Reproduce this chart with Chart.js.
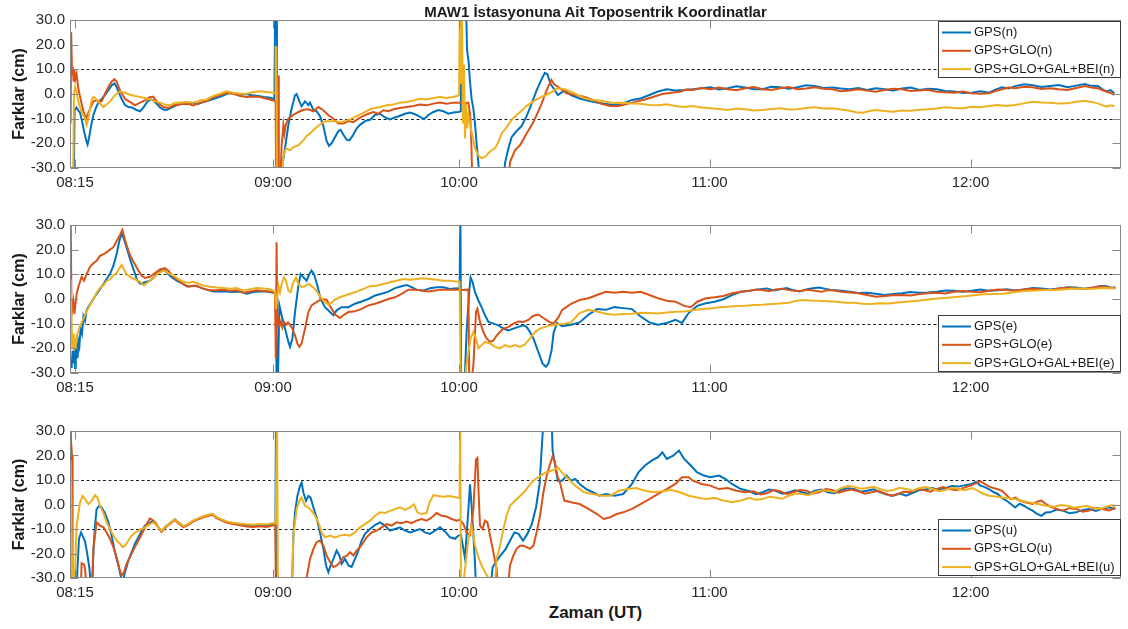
<!DOCTYPE html>
<html lang="tr">
<head>
<meta charset="utf-8">
<title>MAW1 İstasyonuna Ait Toposentrik Koordinatlar</title>
<script src="https://cdn.jsdelivr.net/npm/chart.js@4.4.1/dist/chart.umd.min.js"></script>
<style>
  html, body { margin: 0; padding: 0; background: #fff; }
  #page { position: relative; width: 1128px; height: 629px; overflow: hidden; background: #fff; }
  canvas { position: absolute; left: 0; }
  .txt { position: absolute; left: 70px; width: 1051px; text-align: center; font-family: "Liberation Sans", Arial, sans-serif; font-weight: bold; color: #1a1a1a; white-space: nowrap; }
  #title { top: 3px; font-size: 15px; line-height: 17px; }
  #xtitle { top: 603px; font-size: 17px; line-height: 20px; }
</style>
</head>
<body>
<div id="page">
  <canvas id="pn" width="1128" height="200" style="top:0px"></canvas>
  <canvas id="pe" width="1128" height="200" style="top:200px"></canvas>
  <canvas id="pu" width="1128" height="200" style="top:400px"></canvas>
  <div class="txt" id="title">MAW1 İstasyonuna Ait Toposentrik Koordinatlar</div>
  <div class="txt" id="xtitle">Zaman (UT)</div>
</div>
<script>
// Epoch axis: tick epochs and their clock labels
const tickEpochs = [2.5, 101.5, 194.5, 319.75, 450.25];
const tickLabels = ['08:15', '09:00', '10:00', '11:00', '12:00'];
const epochMax = 525.5;
const yTickValues = [-30, -20, -10, 0, 10, 20, 30];
const refLines = [-10, 10];

// North component [epoch, cm]
const gpsN = [[0.3,-40],[1.8,-40],[2.3,-6.5],[3.3,-5.5],[4.2,-6.8],[5,-7.5],[6,-11],[7,-15],[8.2,-19],[8.8,-20.5],[9.5,-18],[10.5,-13],[11.7,-8.5],[13,-5.5],[14.2,-3.5],[15.8,-2],[17.5,-0.5],[19.2,1.5],[20.8,3.5],[22.2,4.3],[23.3,3],[24.2,1],[25.8,-2],[27.5,-4.5],[29.2,-5.3],[31,-5.5],[33.3,-6.5],[35,-7],[36.7,-5.5],[38.3,-3.5],[40,-2.2],[41.7,-2.5],[43.3,-4],[45,-5.5],[46.7,-6.3],[48.3,-6.5],[50,-5.8],[52,-5],[55,-4],[58,-4.2],[61,-3.6],[64,-4],[67,-3.2],[70,-2.5],[73,-1.6],[76,-0.8],[79,0.3],[82,0.4],[85,-0.3],[88,0],[91,-0.5],[94,-0.8],[97,-1.2],[100,-1.5],[102.2,-2],[102.6,38],[103.4,38],[103.8,-40],[105.8,-31],[107.5,-22],[109.2,-12.5],[110.8,-6],[112.5,-0.5],[113.3,0],[114.7,-3],[115.8,-5],[117.5,-3],[119.2,-4.5],[120,-3.5],[121.7,-6.5],[123.3,-7],[125,-9],[126.7,-13],[128.3,-19],[129.5,-21],[130.8,-20],[132.5,-17.5],[134.2,-15],[135.3,-14.5],[136.7,-16.5],[138.3,-18.5],[139.7,-18.8],[141.3,-17],[143.3,-14],[145,-12.5],[147.5,-11],[150,-10.5],[152.5,-8.5],[155,-8],[157.5,-9.5],[160,-10.3],[162.5,-9.5],[165,-8.8],[167.5,-8],[170,-7.5],[172.5,-8.2],[175,-9.3],[177,-10.2],[179.2,-8.5],[181.7,-7.3],[184.2,-6.5],[186.7,-7],[189.2,-8],[191.7,-7.5],[194.2,-7.3],[195.4,-7],[195.8,38],[198,38],[198.5,18],[199.3,13],[200,5],[200.8,-2],[201.7,-6],[202.5,-12],[203.3,-20],[204.2,-28],[205,-40],[216.5,-40],[217.5,-28],[219.2,-22],[220.8,-17.5],[223.3,-15],[225.8,-13],[228.3,-9],[230.8,-4],[233.3,1.5],[235.8,6],[237.4,8.6],[238.7,8],[240.3,4],[241.8,2.3],[243.9,-0.4],[247.2,1.4],[250.5,-0.4],[254.8,-1.8],[259.2,-2.7],[263.5,-3.5],[267.9,-4],[272.2,-4.5],[276.6,-3.8],[281,-2.4],[285.3,-1.8],[289.7,-0.4],[294,1],[298.4,1.9],[302.7,1.4],[307.1,1.6],[311.4,1.9],[315.8,2.3],[320.2,2.7],[324.5,1.8],[328.9,2.3],[333.2,3.1],[337.6,2.6],[342,1.9],[346.3,1.9],[350.6,2.9],[355,2.7],[359.4,2.1],[363.7,2.7],[368,3.5],[372.4,3.2],[376.8,2.4],[381.1,2.6],[385.5,2.2],[389.8,1.9],[394.2,2.4],[398.5,1.6],[402.9,2.3],[407.3,1.9],[411.6,1.4],[416,2.2],[420.3,2.6],[424.7,1.6],[429,2.1],[433.4,1.9],[437.7,1.2],[442.1,1],[446.5,0.4],[450.8,0.5],[455.2,1.1],[459.5,0.5],[462.7,1.8],[466,2.7],[469.3,2.2],[472.6,3.2],[477,3.9],[481.3,3.6],[485.7,2.8],[490,3.2],[494.4,3.6],[498.7,2.7],[503.1,3.4],[507.4,4],[510.6,3.3],[513.9,3.2],[516.1,2],[518.3,1],[520.3,1.6],[522.2,0.3]];
const gpsGloN = [[0.3,-12],[0.6,25],[1,8],[1.4,11],[1.8,5],[2.2,10],[2.7,6],[3.3,8],[4.2,2],[5.3,-2],[6.7,-7],[8,-10],[8.7,-8.6],[10,-6],[11.7,-3],[13.3,-2.6],[15.8,-3],[18.3,1.5],[20.8,5],[22.2,6],[23.3,5],[25,1.5],[27.5,-2],[30,-3.2],[32.5,-4.6],[35,-3.5],[37.5,-2.6],[40,-1.2],[41.7,-1.1],[44.2,-3.9],[46.7,-5.3],[49.2,-5.7],[51.7,-4.6],[55,-4.3],[58.3,-3.9],[61.7,-4.6],[65,-3.5],[68.3,-3],[71.7,-1.2],[75,-0.5],[78.3,0.5],[81.7,0.1],[85,-0.8],[88.3,-1.2],[91.7,-1],[95,-1.2],[98.3,-1.9],[101.7,-2.6],[102.8,-3],[103.1,-40],[103.7,-40],[104.1,7.5],[104.4,-40],[105,-40],[105.8,-20.8],[106.3,-16.8],[106.7,-12.7],[107.2,-16],[107.8,-12.7],[109.2,-10],[111.7,-8.4],[114.2,-7.3],[116.7,-6.4],[119.2,-6.2],[121.7,-7],[124.2,-5.3],[126.7,-6.6],[129.2,-8.6],[131.7,-10],[134.2,-12],[136.7,-12],[139.2,-11],[141.7,-11.4],[144.2,-10],[146.7,-8.9],[149.2,-8],[151.7,-7.3],[154.2,-8],[156.7,-6.6],[159.2,-7],[161.7,-6.2],[165,-5.7],[168.3,-5.3],[171.7,-4.9],[175,-4.3],[178.3,-4.6],[181.7,-3.9],[185,-3.5],[188.3,-3.9],[191.7,-3.5],[195,-3.5],[197,-3.8],[199.2,-3.5],[200,-8],[200.5,-15],[201,-30],[201.5,-40],[219,-40],[220,-27.6],[222.5,-22.8],[225,-20.8],[228.3,-16],[230.8,-12.7],[233.3,-8.6],[235.8,-3.9],[238.3,1.5],[240,4.5],[240.7,5.7],[242,4],[245,2.3],[248.3,0.3],[252.6,-0.4],[257,-1.1],[261.4,-2.4],[265.7,-4],[270.1,-4.9],[274.4,-4.9],[278.8,-4],[283.1,-3.1],[287.5,-2.2],[291.8,-1.1],[296.2,0],[300.6,0.5],[304.9,0.9],[308.2,1.8],[311.4,1.6],[315.8,2.4],[320.2,1.9],[324.5,2.6],[328.9,1.9],[333.2,1.5],[337.6,2.3],[342,2.8],[346.3,1.9],[350.6,1.6],[355,2.3],[359.4,2.8],[363.7,1.9],[368,2.2],[372.4,2.7],[376.8,2.1],[381.1,1.9],[385.5,1.1],[389.8,1.4],[394.2,1.9],[398.5,1.4],[402.9,0.9],[407.3,1.6],[411.6,2.1],[416,1.9],[420.3,1.2],[424.7,1.4],[429,1.7],[433.4,0.9],[437.7,0.7],[442.1,0.5],[446.5,1],[450.8,0.3],[455.2,0.1],[459.5,0.3],[462.7,1.2],[466,1.9],[469.3,2.6],[472.6,2.3],[477,2.9],[481.3,2.7],[485.7,2],[490,2.3],[494.4,1.9],[498.7,1.6],[503.1,2.4],[507.4,3.2],[510.6,2.6],[513.9,2.3],[516.1,1.6],[518.3,1],[520.3,0.4],[522.2,-0.4]];
const allN = [[0.3,-40],[1.5,-40],[2,0],[2.5,2.8],[3.3,0.8],[4.2,-3.2],[5.8,-7.3],[7.5,-10],[8.3,-12.5],[9,-10.5],[9.7,-7.3],[10.8,-2.6],[11.7,-1.2],[13.3,-2.2],[15,-3.9],[16.7,-5.3],[18.3,-4.3],[20,-3],[22.5,-0.5],[25,1.1],[27.5,0.5],[30,-0.3],[32.5,-0.8],[35,-1.2],[37.5,-1.6],[40,-2.2],[42.5,-3],[45,-3.5],[47.5,-4.3],[50,-4.6],[52.5,-3.5],[55,-3.5],[58.3,-3.2],[61.7,-3.5],[65,-2.6],[68.3,-2.2],[71.7,-0.8],[75,0.1],[78.3,1.1],[81.7,0.5],[85,0.1],[88.3,0.1],[91.7,0.8],[95,1.1],[98.3,0.8],[101.7,0.5],[102.5,0.3],[102.8,19],[103.2,19],[103.5,-40],[105.5,-40],[106.7,-24.9],[108,-22],[110,-22.8],[111.7,-21.5],[114.2,-20.8],[116.7,-18.8],[118.3,-17],[120,-16],[122.5,-14],[125,-12.4],[127.5,-11],[130,-11],[132.5,-11],[135,-11.4],[137.5,-11],[140,-10.3],[142.5,-9.3],[145,-8.4],[147.5,-7.3],[150,-6.2],[152.5,-5.7],[155,-5.3],[158.3,-4.6],[161.7,-4.3],[165,-3.5],[168.3,-3.2],[171.7,-2.6],[175,-1.9],[178.3,-2.2],[181.7,-1.6],[185,-1.2],[188.3,-1.6],[191.7,-1.2],[194.5,-0.5],[195,38],[195.6,4],[196,30],[196.5,-12],[197,12],[197.5,-18],[198,-4],[198.6,-14],[199.2,-8.6],[200.8,-15.4],[202.5,-22],[204.2,-25],[205.8,-26],[207.5,-25.5],[209.2,-24],[210.8,-22.8],[212.5,-22],[214.2,-19.5],[215.8,-16],[218.3,-13.5],[220.8,-10.5],[223.3,-8.5],[225.8,-6.8],[228.3,-4.9],[230.8,-3.5],[233.3,-2.2],[235.8,-1.2],[238.3,-0.3],[240.8,0.8],[243.9,2.3],[247.2,1.9],[250.5,0.9],[254.8,-0.8],[258.1,-1.9],[261.4,-2.4],[264.6,-2.6],[267.9,-3.1],[272.2,-3.6],[276.6,-3.5],[281,-3.9],[285.3,-4],[289.7,-4.5],[294,-4.6],[298.4,-4.2],[302.7,-4.9],[307.1,-5.3],[311.4,-4.9],[315.8,-5.5],[320.2,-5.8],[324.5,-6.1],[328.9,-6.5],[333.2,-5.9],[337.6,-6.2],[342,-6.7],[346.3,-6.5],[350.6,-6.1],[355,-5.8],[359.4,-6.3],[363.7,-6.2],[368,-5.7],[372.4,-5.4],[376.8,-5.9],[381.1,-5.8],[385.5,-6.3],[389.8,-6.8],[393.1,-7.4],[396.4,-7.6],[399.7,-6.9],[402.9,-6.5],[407.3,-6.9],[411.6,-7.2],[416,-6.7],[420.3,-6.8],[424.7,-6.4],[429,-6.2],[433.4,-5.9],[437.7,-5.4],[442.1,-5.7],[446.5,-5.8],[450.8,-5.2],[455.2,-5.4],[459.5,-4.9],[463.9,-4.5],[468.2,-4.9],[472.6,-4.5],[477,-3.8],[481.3,-3.1],[485.7,-3.4],[490,-3.5],[494.4,-3.9],[498.7,-3.8],[503.1,-3.1],[507.4,-2.7],[510.6,-3.2],[513.9,-3.8],[516.1,-4.5],[518.3,-5.1],[520.3,-4.6],[522.2,-4.9]];

// East component [epoch, cm]
const gpsE = [[0.3,-25],[0.8,-28],[1.3,-21],[1.7,-26],[2.1,-20],[2.5,-28],[2.9,-22],[3.3,-20],[3.8,-24],[4.2,-17],[4.7,-19],[5.3,-12],[6,-14],[6.7,-7],[7.5,-9],[8.3,-4.5],[9.2,-3.3],[10.5,-1.5],[11.7,0],[13.3,2],[15,4],[16.7,6],[18.3,8.1],[20,10.1],[21.7,13.5],[23.3,18.2],[24.7,23.6],[25.8,26.9],[27,24.2],[28.3,20.9],[30,16.2],[31.7,12.1],[33.7,7.4],[35.3,6.1],[37.5,6.8],[40,7.4],[42,8.8],[44.2,10.8],[46.7,11.9],[48.3,10.8],[50.8,8.8],[53.3,7.4],[55.8,6.5],[58.3,5.2],[60.8,5.2],[63.3,5.4],[65.8,4.4],[68.3,3.8],[71.7,3],[75,3],[78.3,3],[81.7,2.8],[85,3],[88.3,2.1],[91.7,2.8],[95,3],[98.3,3],[101.7,2.5],[103,2.5],[103.3,-40],[103.8,-40],[104.7,-2.6],[105.8,-6.6],[107.5,-12],[109.2,-17.4],[110,-19.4],[111.2,-16],[112.5,-5.3],[114.2,5.4],[115.3,10.1],[116.7,8.8],[118.3,7.4],[119.7,10.1],[120.8,11.5],[122,10.1],[123.7,5.4],[125.3,0],[127.5,-3.3],[130,-5.3],[131.7,-6.6],[133.3,-4.6],[135.8,-3.3],[139.2,-3.3],[142.5,-1.9],[145.8,-1],[149.2,0],[152.5,1.4],[155.8,2.1],[159.2,3],[162.5,4.4],[165.8,5.2],[168.3,5.7],[170.8,4.8],[173.3,3.8],[176.7,3.4],[180,4.4],[183.3,4.8],[186.7,4.8],[190,4.1],[193.3,4.4],[194.8,4.2],[195.2,38],[195.6,-40],[197,-40],[198.3,-13.4],[199.7,4],[200.3,8.8],[201.3,6.8],[202.5,2.8],[204.2,-0.6],[205.8,-3.3],[207.5,-6.6],[209.2,-9.3],[211.7,-10],[214.2,-10.7],[216.7,-12],[219.2,-12.7],[221.7,-12],[224.2,-11.3],[226.7,-10.7],[228.3,-11.3],[230,-13.4],[231.7,-16],[234.2,-21.5],[236.3,-26.2],[238,-27.5],[239.2,-26.2],[240.8,-20.8],[241.8,-13.7],[243.5,-9.7],[246.1,-11],[250.5,-10.4],[254.8,-9.5],[259.2,-6.4],[263.5,-4.1],[267.9,-4.4],[272.2,-3.3],[276.6,-3.7],[281,-4.1],[285.3,-7.1],[289.7,-9.5],[294,-10.4],[298.4,-9.7],[302.7,-8.4],[306,-9.7],[309.3,-5.7],[313.6,-2.8],[318,-1.7],[322.3,-1.1],[326.7,-0.1],[331,1.6],[335.4,2.9],[339.8,3.3],[344.1,3.9],[348.5,4.3],[351.8,3.5],[355,3.9],[358.3,4.4],[361.5,3.6],[364.8,3.1],[368.1,3.9],[371.4,4.4],[374.6,4.7],[377.9,4.1],[381.1,3.6],[385.5,3.3],[389.8,2.9],[394.2,2.4],[398.5,2.5],[402.9,2.1],[407.3,1.6],[411.6,2],[416,2.3],[420.3,2.8],[424.7,2.5],[429,2.6],[433.4,2.9],[437.7,3.4],[442.1,3.3],[446.5,2.9],[450.8,3.3],[455.2,3.8],[459.5,3.3],[463.9,3.5],[468.2,3.9],[472.6,3.4],[476.9,3.9],[481.3,4.5],[485.7,4.3],[490,3.9],[494.4,4.3],[498.7,4.8],[503.1,4.7],[507.4,4.2],[511.8,4.7],[515,5.3],[518.3,5.2],[520.5,4.6],[522.7,4.7]];
const gpsGloE = [[0.3,38],[0.7,0],[1.2,-4],[1.7,-1],[2.2,-6],[2.6,-3],[3.3,2],[4.2,5],[5,7],[5.8,9],[7,7.5],[8.3,10],[10,13],[11.7,14.5],[13.3,15.5],[15,17.5],[17.5,18.5],[20,20],[21.7,21],[23.3,23.5],[25,26],[26.2,28],[27.5,24],[29.2,19.5],[30.8,16.5],[32.5,14],[34.2,11.5],[35.8,9.5],[37.5,8.5],[40,9],[42.5,10.5],[45,12],[47.5,12.5],[49.2,11.5],[51.7,9],[54.2,7.5],[56.7,6],[59.2,5],[61.7,5.5],[64.2,5],[66.7,4.2],[70,3.5],[73.3,3.5],[76.7,3.7],[80,3.3],[83.3,3.5],[86.7,2.5],[90,3],[93.3,3.5],[96.7,3.2],[100,3],[102.5,2.5],[102.9,-24],[103.3,23],[103.7,-10],[104.2,-8],[104.8,-11],[105.5,-9],[106.2,-11.5],[107,-9.3],[108,-10.5],[109,-9.5],[110,-10.5],[111.2,-12],[112.5,-14.7],[113.7,-18],[114.7,-19.4],[115.8,-18],[117.5,-12],[119.2,-5.3],[120.8,-2.6],[123.3,-1.3],[125.8,0],[128.3,-0.3],[130.8,-4],[133,-6.6],[135,-7.7],[136.7,-6.6],[139.2,-5.3],[142.5,-5],[145.8,-4],[149.2,-2.6],[152.5,-1.9],[155.8,-1],[159.2,0],[162.5,0.7],[165.8,2.1],[169.2,3.8],[172.5,3.8],[175.8,3.4],[179.2,3],[182.5,3.4],[185.8,3.8],[189.2,3.8],[192.5,3.8],[195,3.8],[197,3.7],[199.2,3.8],[199.7,-40],[201.7,-26.8],[203,-5.3],[203.7,-4],[205,-9.3],[206.7,-13.4],[208.3,-16],[210,-17.4],[211.7,-16.8],[213.3,-14.8],[215,-13.4],[216.7,-12],[219.2,-11.4],[221.7,-10],[224.2,-9.1],[226.7,-9.3],[229.2,-8.5],[231.7,-6.8],[234.2,-6.3],[236.7,-7.7],[239.2,-9.1],[241.7,-10],[244.2,-7.5],[246.1,-4.4],[250.5,-2],[254.8,-0.4],[259.2,0.3],[263.5,1.6],[267.9,2.9],[272.2,2.5],[276.6,2.9],[281,2.5],[285.3,2.9],[289.7,1.6],[294,0.3],[298.4,-0.7],[302.7,-1.1],[307.1,-2.8],[310.4,-3.3],[313.6,-1.1],[318,0.3],[322.3,0.7],[326.7,1.2],[331,2.3],[335.4,2.9],[339.8,3.3],[343,3.8],[346.3,3.6],[349.6,3.2],[352.8,3.9],[356.1,4.2],[359.4,3.6],[362.7,3.2],[365.9,3.3],[369.2,3.7],[372.4,3.3],[375.7,2.9],[378.9,3.6],[382.2,3.4],[385.5,2.9],[389.8,2.6],[394.2,2.3],[398.5,1.6],[402.9,0.9],[407.3,1.2],[411.6,1.5],[416,1.6],[420.3,1.4],[424.7,2],[429,2.3],[433.4,2.5],[437.7,2.2],[442.1,2.9],[446.5,3.2],[450.8,2.9],[455.2,2.7],[459.5,3.3],[463.9,3.8],[468.2,3.6],[472.6,3.3],[476.9,3.9],[481.3,4.2],[485.7,3.9],[490,3.6],[494.4,4.3],[498.7,4.6],[503.1,4.3],[507.4,4.1],[511.8,4.7],[515,5.1],[518.3,4.9],[520.5,4.4],[522.7,4.7]];
const allE = [[0.3,8],[0.7,-5],[1.1,-20],[1.5,-14],[1.9,-21],[2.3,-16],[2.8,-20],[3.3,-15],[4.2,-13],[5,-11],[6.7,-8],[8.3,-5],[10,-2.5],[11.7,0],[13.3,2.5],[15,4.5],[16.7,5.5],[18.3,7.2],[20,8],[21.7,9.5],[23.3,10.5],[24.7,12.5],[25.8,13.8],[27,12],[28.3,10],[30,9],[32.5,8],[35,7],[37,5.5],[39.2,7],[41.7,8.5],[44.2,10.5],[46.7,11.5],[49.2,10.5],[51.7,9.5],[54.2,8],[56.7,7],[59.2,6.5],[61.7,7],[64.2,6.2],[66.7,5.5],[70,5],[73.3,4.7],[76.7,4.5],[80,4.2],[83.3,4.5],[86.7,3.5],[90,4],[93.3,4.5],[96.7,4.3],[100,4],[102.5,3],[103,-4],[103.5,0],[104.2,5.4],[105,2.8],[105.8,6],[107,8.8],[108,7.4],[109.2,3.4],[110.3,2.8],[111.7,6.8],[113,8.8],[114.2,6.1],[115.8,4.8],[117.5,5.2],[119.2,6.1],[120.8,5.2],[122.5,4.1],[124.2,2.1],[125.8,0.3],[127.5,-1.3],[129.2,-2.3],[130.8,-1.5],[132.5,-0.2],[135,0.7],[137.5,1.4],[140,2.1],[143.3,3],[146.7,4.1],[150,5.2],[153.3,5.4],[156.7,6.1],[160,6.8],[163.3,7.4],[166.7,8.1],[170,7.8],[173.3,8.1],[176.7,8.4],[180,8.1],[183.3,7.8],[186.7,7.4],[190,7.4],[194.2,7],[194.8,7],[195.4,-40],[197,-40],[198,-28],[199.2,-21.5],[200.3,-16],[201.7,-13.4],[203,-16],[204.2,-20],[205.8,-18.7],[207.5,-17.4],[210,-18],[212.5,-19.4],[215,-20],[217.5,-18.7],[220,-19.4],[222.5,-18.7],[225,-19.4],[227.5,-18.4],[230,-16],[232.5,-13.4],[235,-12],[237.5,-11.4],[240,-10.7],[242.5,-10.4],[244.7,-10.1],[247.5,-10],[250.5,-9.5],[254.8,-5.7],[259.2,-4.4],[263.5,-5.1],[267.9,-6],[272.2,-6.4],[276.6,-6.1],[281,-6],[285.3,-5.6],[289.7,-5.7],[294,-5.9],[298.4,-5.5],[302.7,-5.2],[307.1,-5.1],[311.4,-4.6],[315.8,-4.1],[320.2,-3.9],[324.5,-3.3],[328.9,-3.1],[333.2,-2.8],[337.6,-2.7],[341.9,-2.4],[346.3,-2.3],[350.6,-2],[355,-1.8],[359.4,-1.5],[362.6,-0.8],[365.9,-0.4],[370.3,-0.6],[374.6,-0.7],[379,-0.9],[383.3,-1.1],[387.7,-1.5],[392,-1.5],[396.4,-1.9],[400.7,-2],[405.1,-1.7],[409.4,-1.8],[413.8,-1.4],[418.1,-1.1],[422.5,-0.8],[426.9,-0.4],[431.2,0],[435.6,0.3],[440,0.6],[444.3,0.9],[448.7,1.2],[453,1.6],[457.4,1.9],[461.7,2],[466,2.1],[470.4,2.5],[474.8,3],[479.1,3.3],[483.5,3.4],[487.8,3.6],[492.2,3.6],[496.5,3.9],[500.9,4.2],[505.2,4.3],[509.6,4.1],[513.9,4.3],[518.3,4.5],[522.7,4.3]];

// Up component [epoch, cm]
const gpsU = [[0.3,38],[1,-40],[3,-40],[3.8,-25],[4.5,-14],[5.5,-11.4],[6.7,-13.5],[7.5,-15],[8.5,-19.5],[9.7,-26],[10.3,-32],[11,-35],[11.7,-19.5],[12.5,-8.6],[13.3,-1.9],[14.7,-0.5],[15.8,-1.2],[17.5,-3.5],[19.2,-7.3],[20.8,-12.7],[22.5,-19.5],[24.2,-24.9],[25.3,-29],[26.3,-32],[27.5,-27.6],[29.2,-22.8],[30.8,-19.5],[32.5,-16],[34.2,-13.4],[35.8,-10.7],[37.5,-8.6],[39.2,-8],[40.8,-7],[42.5,-7.6],[44.2,-9.3],[45.8,-11],[47.5,-9.3],[50,-7.6],[52.5,-6],[54.2,-7.3],[56.7,-8.9],[59.2,-8],[61.7,-6.6],[64.2,-5.7],[66.7,-4.9],[69.2,-4.3],[71.3,-3.9],[73.3,-5.3],[75.8,-6.2],[78.3,-7],[81.7,-7.6],[85,-8],[88.3,-8.4],[91.7,-8.6],[95,-8.4],[98.3,-8.6],[101.7,-8],[102.7,-8.2],[103,38],[103.3,-40],[110.8,-40],[111.7,-12.7],[112.5,-3.2],[113.7,3.5],[115,7.6],[115.8,8.9],[116.7,4.9],[118,1.5],[119.2,3.5],[120.3,2.8],[121.7,-1.2],[123.3,-5.3],[125,-11.4],[126.7,-18.1],[128,-24.9],[129.2,-27.6],[130.3,-24.9],[131.7,-22.2],[133.3,-18.8],[134.7,-20.8],[135.8,-24.2],[137.5,-22.2],[139.2,-24.9],[140.8,-25.5],[142.5,-22.2],[144.2,-18.8],[145.8,-14.7],[147.5,-12],[150,-10],[152.5,-8.4],[155,-7.3],[157.5,-8.6],[160,-10.7],[162.5,-10],[165,-9.3],[167.5,-10.7],[170,-11.4],[172.5,-10.7],[175,-10],[177.5,-11.4],[180,-12],[182.5,-10.7],[185,-9.3],[187.5,-11],[190,-13.4],[192.5,-14],[194.2,-12.7],[195.5,-12.5],[197.5,-22],[199.2,-1.9],[200,8.2],[200.8,-0.5],[201.7,-12.7],[202.5,-24],[203.3,-40],[209.5,-40],[211.3,-25.6],[214.5,-21.6],[217.8,-18.2],[220,-14.8],[222.2,-11.4],[224.3,-12],[226.5,-14.8],[228.7,-12],[230.9,-8],[233,-1.2],[234.8,8.4],[236.3,28.8],[237,38],[240.7,38],[241.3,22],[242.2,17.9],[243.9,9.7],[246.1,9.7],[248.3,11.8],[250.5,9.7],[252.6,10.4],[254.8,8.4],[258.1,6.3],[261.4,5],[264.6,3.6],[267.9,4.3],[272.2,3.6],[276.6,4.3],[281,8.4],[284.2,13.1],[287.5,15.9],[290.8,17.9],[294,19.3],[296.2,21.3],[298.4,18.6],[301.6,19.9],[304.5,22],[307.1,18.6],[310.4,15.9],[313.6,13.1],[316.9,11.8],[320.2,11.1],[324.5,11.8],[327.8,10.4],[331,8.4],[335.4,6.3],[339.8,5.4],[343,4.2],[346.3,5],[349.6,6.1],[352.8,5.6],[356.1,4.4],[359.4,5],[362.7,5.8],[365.9,5],[369.2,4.3],[372.4,5.6],[375.7,6.1],[378.9,5],[382.2,4.6],[385.5,5.9],[388.8,6.6],[392,6.3],[395.3,5.2],[398.5,5.6],[401.8,6.2],[405.1,5],[408.4,4.1],[411.6,3.6],[414.9,4.5],[418.1,3.6],[421.4,4.8],[424.7,5.9],[428,6.2],[431.2,6.7],[434.5,5.9],[437.7,6.7],[441,7.5],[444.3,7.3],[447.6,7.9],[450.8,8.4],[453,9.2],[455.2,7.7],[457.4,7.1],[459.5,6.3],[461.7,5.1],[463.9,4.3],[466,2.7],[468.2,1.6],[470.4,0.2],[472.6,-1.2],[474.8,0.3],[476.9,-0.5],[479.1,-1.6],[481.3,-2.5],[483.5,-3.8],[485.7,-4.6],[487.8,-3.3],[490,-3.2],[493.3,-2.1],[496.5,-2.5],[499.8,-3.6],[503.1,-3.2],[506.4,-2.2],[509.6,-1.8],[512.9,-2.6],[516.2,-1.8],[519.5,-1.1],[522.7,-1.8]];
const gpsGloU = [[0.3,-40],[0.6,25],[1,20],[1.3,-40],[5.2,-40],[5.8,-24],[7,-24.5],[7.5,-26],[8,-31],[8.5,-40],[10.8,-40],[11.7,-18],[13.3,-7.3],[15,-8.6],[16.7,-9.3],[18.3,-11.4],[20,-14],[21.7,-17.4],[23.3,-21.5],[24.7,-26.2],[25.8,-29],[27,-27.6],[28.3,-24.2],[30,-21.5],[32,-18.1],[34.2,-14.7],[36.3,-11.4],[38.3,-8],[40,-5.7],[41.7,-6.6],[43.3,-8],[44.2,-9.5],[45.8,-11.2],[47.5,-9.6],[50,-7.9],[52.5,-6.3],[54.2,-7.6],[56.7,-9.2],[59.2,-8.3],[61.7,-6.9],[64.2,-6],[66.7,-5.2],[69.2,-4.6],[71.3,-4.2],[73.3,-5.6],[75.8,-6.5],[78.3,-7.4],[81.7,-8],[85,-8.5],[88.3,-9],[91.7,-9.2],[95,-8.9],[98.3,-9.2],[101.7,-8.5],[102.6,-8.3],[103,-40],[118,-40],[118.3,-30],[120,-22.2],[121.7,-18.1],[123.3,-15.4],[125,-14.7],[126.7,-16.8],[128.3,-20.8],[130,-23.5],[131.7,-25.5],[133.3,-25],[135,-23.5],[136.7,-21.5],[138.3,-21],[140,-19.5],[141.7,-20.8],[143.3,-18.8],[145,-17.4],[146.7,-15.4],[148.3,-13.4],[150.8,-11.4],[153.3,-10.7],[155.8,-9.3],[158.3,-8],[160.8,-8.6],[163.3,-7.3],[165.8,-7.6],[168.3,-7],[170.8,-7.6],[173.3,-6.6],[175.8,-5.9],[178.3,-6.6],[180.8,-5.3],[183.3,-3.5],[185.8,-4.6],[188.3,-4.9],[190.8,-5.9],[193.3,-6.6],[195,-6.2],[196.7,-8],[198.3,-11.4],[200,-12.5],[201.7,-1.9],[203,18.4],[203.7,19],[204.3,4.9],[205,-8.6],[206.3,-10],[207.5,-6.6],[208.7,-7.3],[210,-12.7],[211.7,-19.5],[213.3,-26.2],[214.5,-40],[218.3,-40],[220,-24.9],[221.7,-20.8],[223.3,-18.1],[225,-16.8],[226.7,-16.8],[228.3,-17.4],[230,-18.1],[231.7,-16.8],[233.3,-11.4],[235,-4.6],[236.7,4.9],[238.3,11.6],[240,16.4],[241.3,19.7],[242.5,17],[243.7,11.6],[245,8.9],[247.2,1.6],[250.5,0.9],[254.8,0.2],[259.2,-1.8],[263.5,-3.9],[266.8,-5.9],[270.1,-5.2],[273.3,-3.9],[276.6,-3.2],[281,-1.8],[285.3,0.2],[289.7,2.2],[294,4.3],[298.4,6.3],[302.7,8.4],[306,11.1],[309.3,11.1],[311.4,9.7],[315.8,8.4],[320.2,7.7],[324.5,6.3],[328.9,6.7],[333.2,5.6],[337.6,5],[341.9,5.4],[345.2,4.1],[348.5,4.6],[351.8,5.9],[355,5.4],[358.3,4.3],[361.5,5],[364.8,5.9],[368.1,5.6],[371.4,4.5],[374.6,5],[377.9,6.3],[381.1,5.9],[384.4,4.8],[387.6,5.6],[390.9,6.1],[394.2,5.4],[397.5,4.4],[400.7,5],[404,5.5],[407.3,4.6],[410.6,3.5],[413.8,4.3],[417.1,5.2],[420.3,5],[423.6,6.3],[426.9,5.9],[430.2,5.2],[433.4,6.3],[436.7,7.1],[439.9,6.3],[443.2,5.8],[446.5,6.7],[449.8,7.6],[453,8.6],[455.2,9.5],[457.3,8.4],[459.5,7.4],[461.7,6.7],[463.9,6.2],[466,5.6],[468.2,3.9],[470.4,2.2],[472.6,2.8],[474.8,1.6],[478,0.8],[481.3,0.2],[483.5,1.1],[485.7,1.6],[487.8,0.3],[490,-0.9],[493.3,-1.8],[496.5,-2.5],[499.8,-1.4],[503.1,-1.8],[506.4,-2.9],[509.6,-2.5],[512.9,-1.3],[516.2,-1.8],[519.5,-2.4],[522.7,-1.4]];
const allU = [[0.3,18],[0.6,5],[1.2,-40],[2,-40],[3.3,-8.6],[5,0.8],[6.3,3.5],[7.5,2.2],[9.2,0.1],[10.8,1.5],[12.5,3.8],[13.7,2.8],[15,-0.5],[16.7,-3.5],[18.3,-7.3],[20,-10],[21.7,-12.7],[23.3,-14.7],[25,-16],[26.3,-17.4],[27.5,-16.8],[29.2,-14.7],[30.8,-12.7],[32.5,-11.6],[35,-10.3],[37.5,-9.3],[40,-8],[41.7,-7.3],[43.3,-8.5],[44.2,-9.3],[45.8,-10.8],[47.5,-9.3],[50,-7.6],[52.5,-6],[54.2,-7.2],[56.7,-8.8],[59.2,-7.9],[61.7,-6.5],[64.2,-5.6],[66.7,-4.8],[69.2,-4.2],[71.3,-3.8],[73.3,-5.2],[75.8,-6.1],[78.3,-6.9],[81.7,-7.5],[85,-7.8],[88.3,-8.1],[91.7,-8.3],[95,-8],[98.3,-8.2],[101.7,-7.6],[102.8,-7.8],[103.5,38],[104,-40],[110.8,-40],[111.7,-12.7],[113.3,-1.9],[114.7,1.5],[115.8,2.8],[117.5,-0.5],[119.2,-1.2],[120.8,-2.6],[122.5,-4.6],[124.2,-7.3],[125.8,-11.4],[127.5,-13.4],[130,-12.7],[132.5,-13.4],[135,-12.7],[137.5,-12.4],[140,-12.7],[142.5,-11.4],[145,-9.3],[147.5,-8],[150,-6.6],[152.5,-4.6],[155,-3.2],[157.5,-3.5],[160,-2.6],[162.5,-1.9],[165,-1.2],[167.5,-2.2],[170,-1.2],[172,0.1],[173.7,-3.2],[175.8,-3.9],[178.3,-3.5],[179.7,0.8],[181.7,3.8],[184.2,3.5],[186.7,3.2],[189.2,3.5],[191.7,3.2],[194.2,2.8],[194.8,2.8],[195.1,38],[195.5,-40],[197,-30],[199.2,-14],[200.8,-8.6],[202.5,-16.8],[204.2,-21.5],[205.8,-24.9],[207.5,-27.6],[209.2,-30],[210,-40],[212,-40],[213.3,-22.2],[215,-16.8],[216.7,-10],[218.3,-4.6],[220,-0.5],[222.5,1.5],[225,3.5],[227.5,5.5],[230,8.2],[232.5,10.3],[235,11.6],[237.5,13],[240,13.6],[242.5,14.3],[243.9,15.2],[246,13],[248.3,11.1],[252.6,7.7],[257,5],[261.4,4.3],[265.7,3.6],[270.1,3.6],[274.4,5.6],[278.8,6.3],[283.1,6.7],[287.5,5.6],[291.8,5],[296.2,5.4],[300.6,5.9],[304.9,5],[309.3,3.6],[313.6,2.9],[318,2.2],[322.3,2.7],[326.7,1.6],[331,0.9],[335.4,1.6],[339.8,2.7],[343,1.9],[346.3,2.2],[349.6,3.2],[352.8,2.9],[356.1,2.4],[359.4,3.6],[362.7,4.5],[365.9,4.3],[369.2,3.8],[372.4,5],[375.7,5.8],[378.9,5.6],[382.2,5.1],[385.5,6.7],[388.8,7.5],[392,7.3],[395.3,6.4],[398.5,6.7],[401.8,7.2],[405.1,6.3],[408.4,5.5],[411.6,5.9],[414.9,6.8],[418.1,6.3],[421.4,5.6],[424.7,6.7],[428,7.1],[431.2,6.3],[434.5,5.4],[437.7,5.9],[441,6.8],[444.3,6.3],[447.6,5.8],[450.8,6.7],[453,6.1],[455.2,5],[457.4,4.2],[459.5,3.6],[462.8,3.3],[466,2.9],[469.3,2.6],[472.6,2.2],[475.9,1.5],[479.1,0.9],[482.4,0.5],[485.7,-0.1],[489,-0.6],[492.2,-0.9],[495.5,-0.2],[498.7,-0.5],[502,-1.3],[505.2,-0.9],[508.5,-0.6],[511.8,-1.4],[515.1,-1.8],[518.3,-0.9],[520.5,-0.3],[522.7,-0.5]];

const seriesColors = ['#0072BD', '#D95319', '#EDB120'];
const FONT = '"Liberation Sans", Arial, Helvetica, sans-serif';

// Axes frame, inward ticks, dashed reference lines and an inset legend
const framePlugin = {
  id: 'frame',
  beforeDatasetsDraw(chart) {
    const { ctx, chartArea: a, scales: { y } } = chart;
    ctx.save();
    ctx.strokeStyle = '#1f1f1f';
    ctx.lineWidth = 1;
    ctx.setLineDash([3, 2.5]);
    refLines.forEach(v => {
      const py = Math.round(y.getPixelForValue(v)) + 0.5;
      ctx.beginPath();
      ctx.moveTo(a.left, py);
      ctx.lineTo(a.right, py);
      ctx.stroke();
    });
    ctx.restore();
  },
  afterDatasetsDraw(chart) {
    const { ctx, chartArea: a, scales: { x, y } } = chart;
    const L = Math.round(a.left) + 0.5, R = Math.round(a.right) - 0.5;
    const T = Math.round(a.top) + 0.5, B = Math.round(a.bottom) - 0.5;
    ctx.save();
    ctx.strokeStyle = '#868686';
    ctx.lineWidth = 1;
    ctx.beginPath();
    x.ticks.forEach(t => {
      const px = Math.round(x.getPixelForValue(t.value)) + 0.5;
      ctx.moveTo(px, T); ctx.lineTo(px, T + 8);
      ctx.moveTo(px, B); ctx.lineTo(px, B - 8);
    });
    y.ticks.forEach(t => {
      const py = Math.round(y.getPixelForValue(t.value)) + 0.5;
      ctx.moveTo(L, py); ctx.lineTo(L + 8, py);
      ctx.moveTo(R, py); ctx.lineTo(R - 8, py);
    });
    ctx.stroke();
    ctx.strokeRect(L, T, R - L, B - T);
    ctx.restore();
  },
  afterDraw(chart, args, opts) {
    const { ctx, chartArea: a } = chart;
    const x0 = 938, x1 = Math.round(a.right), y0 = opts.legendTop, h = 57;
    ctx.save();
    ctx.fillStyle = '#ffffff';
    ctx.fillRect(x0, y0, x1 - x0, h);
    ctx.strokeStyle = '#3a3a3a';
    ctx.lineWidth = 1;
    ctx.strokeRect(x0 + 0.5, y0 + 0.5, x1 - x0 - 1, h - 1);
    ctx.font = '13px ' + FONT;
    ctx.textBaseline = 'middle';
    chart.data.datasets.forEach((ds, i) => {
      const cy = y0 + 11.5 + i * 18.3;
      ctx.strokeStyle = ds.borderColor;
      ctx.lineWidth = 2;
      ctx.beginPath();
      ctx.moveTo(942, cy);
      ctx.lineTo(971, cy);
      ctx.stroke();
      ctx.fillStyle = '#1a1a1a';
      ctx.fillText(ds.label, 974, cy);
    });
    ctx.restore();
  }
};

function makePanel(canvasId, names, series, padTop, xAxisHeight, legendTop) {
  const datasets = series.map((pts, i) => ({
    label: names[i],
    data: pts,
    borderColor: seriesColors[i],
    backgroundColor: seriesColors[i],
    borderWidth: 2,
    pointRadius: 0,
    tension: 0,
    fill: false,
    order: 2 - i
  }));
  return new Chart(document.getElementById(canvasId), {
    type: 'line',
    data: { datasets },
    plugins: [framePlugin],
    options: {
      responsive: false,
      animation: false,
      devicePixelRatio: 1,
      events: [],
      layout: { padding: { top: padTop, right: 7, bottom: 0, left: 0 } },
      plugins: {
        legend: { display: false },
        tooltip: { enabled: false },
        title: { display: false },
        frame: { legendTop }
      },
      scales: {
        x: {
          type: 'linear',
          min: 0,
          max: epochMax,
          afterBuildTicks: s => { s.ticks = tickEpochs.map(v => ({ value: v })); },
          afterFit: s => { s.height = xAxisHeight; },
          grid: { display: false, drawTicks: false },
          border: { display: false },
          ticks: {
            autoSkip: false, maxRotation: 0, minRotation: 0, padding: 6,
            color: '#262626', font: { family: FONT, size: 15 },
            callback: (v, i) => tickLabels[i]
          }
        },
        y: {
          min: -30,
          max: 30,
          afterBuildTicks: s => { s.ticks = yTickValues.map(v => ({ value: v })); },
          afterFit: s => { s.width = 70; },
          grid: { display: false, drawTicks: false },
          border: { display: false },
          ticks: {
            padding: 5, color: '#262626', font: { family: FONT, size: 15 },
            callback: v => Number(v).toFixed(1)
          },
          title: {
            display: true, text: 'Farklar (cm)', color: '#1a1a1a',
            font: { family: FONT, size: 16, weight: 'bold' },
            padding: { top: 10, bottom: 0 }
          }
        }
      }
    }
  });
}

makePanel('pn', ['GPS(n)', 'GPS+GLO(n)', 'GPS+GLO+GAL+BEI(n)'], [gpsN, gpsGloN, allN], 20, 32, 21);
makePanel('pe', ['GPS(e)', 'GPS+GLO(e)', 'GPS+GLO+GAL+BEI(e)'], [gpsE, gpsGloE, allE], 25, 27, 115);
makePanel('pu', ['GPS(u)', 'GPS+GLO(u)', 'GPS+GLO+GAL+BEI(u)'], [gpsU, gpsGloU, allU], 31, 22, 119);
</script>
</body>
</html>
